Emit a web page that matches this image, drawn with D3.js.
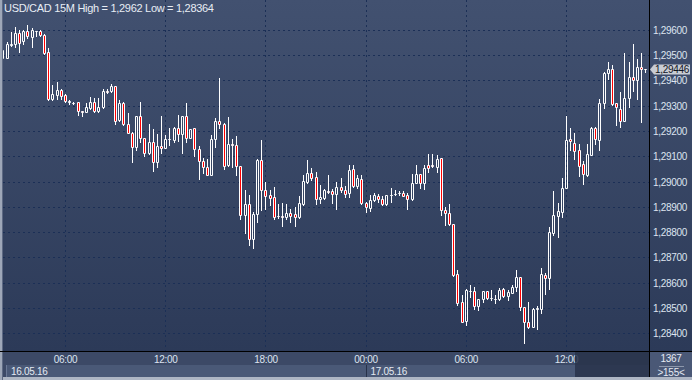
<!DOCTYPE html>
<html><head><meta charset="utf-8">
<script src="https://cdn.jsdelivr.net/npm/d3@7/dist/d3.min.js"></script>
<style>html,body{margin:0;padding:0;background:#3a4762;overflow:hidden}svg{display:block}
text{font-family:"Liberation Sans",Arial,sans-serif;}</style>
</head><body><svg id="c" width="692" height="380"></svg>
<script>
// ---- data (15-minute bars, USD/CAD) ----
const startTime = Date.UTC(2016, 4, 16, 2, 15); // first (partially visible) bar
const barMinutes = 15;
const open = [1.29492,1.29492,1.29542,1.29548,1.29592,1.29558,1.29598,1.29575,1.29598,1.29597,1.29581,1.29513,1.29327,1.29344,1.29364,1.29344,1.29315,1.29312,1.29315,1.29280,1.29278,1.29293,1.29315,1.29280,1.29296,1.29362,1.29360,1.29379,1.29245,1.29311,1.29228,1.29196,1.29139,1.29261,1.29175,1.29113,1.29159,1.29080,1.29143,1.29135,1.29170,1.29168,1.29212,1.29192,1.29261,1.29175,1.29212,1.29129,1.29082,1.29060,1.29027,1.29170,1.29241,1.29228,1.29069,1.29149,1.29145,1.29063,1.28871,1.28912,1.28776,1.28875,1.29086,1.28968,1.28948,1.28941,1.28864,1.28864,1.28860,1.28878,1.28875,1.28862,1.28912,1.29000,1.29034,1.29018,1.28931,1.28937,1.28965,1.28964,1.28951,1.28981,1.28968,1.28957,1.29050,1.28986,1.29010,1.28915,1.28899,1.28928,1.28944,1.28931,1.28912,1.28949,1.28952,1.28955,1.28958,1.28948,1.28931,1.28997,1.29030,1.28997,1.29069,1.29069,1.29060,1.29095,1.28891,1.28879,1.28832,1.28634,1.28523,1.28450,1.28569,1.28568,1.28509,1.28535,1.28568,1.28540,1.28538,1.28535,1.28576,1.28549,1.28562,1.28585,1.28622,1.28505,1.28446,1.28426,1.28498,1.28499,1.28631,1.28618,1.28798,1.28867,1.28882,1.28978,1.29170,1.29156,1.29126,1.29073,1.29027,1.29106,1.29212,1.29168,1.29311,1.29430,1.29447,1.29311,1.29291,1.29242,1.29331,1.29414,1.29403,1.29456,1.29446];
const high = [1.29525,1.29555,1.29594,1.29614,1.29601,1.29601,1.29620,1.29608,1.29600,1.29601,1.29588,1.29529,1.29383,1.29397,1.29368,1.29348,1.29325,1.29317,1.29316,1.29281,1.29311,1.29337,1.29333,1.29331,1.29368,1.29370,1.29390,1.29380,1.29324,1.29315,1.29275,1.29197,1.29262,1.29315,1.29176,1.29229,1.29209,1.29192,1.29261,1.29188,1.29214,1.29217,1.29267,1.29262,1.29311,1.29209,1.29213,1.29142,1.29096,1.29093,1.29185,1.29252,1.29410,1.29232,1.29258,1.29172,1.29181,1.29064,1.28968,1.28948,1.28882,1.29093,1.29168,1.29000,1.28968,1.28981,1.28912,1.28915,1.28912,1.28895,1.28902,1.28944,1.29027,1.29086,1.29057,1.29040,1.28987,1.28974,1.29027,1.28974,1.29000,1.29014,1.28983,1.29067,1.29067,1.29027,1.29027,1.28921,1.28948,1.28957,1.28954,1.28944,1.28949,1.28978,1.28968,1.28964,1.28964,1.28957,1.29030,1.29067,1.29031,1.29067,1.29109,1.29109,1.29106,1.29097,1.28902,1.28912,1.28833,1.28651,1.28552,1.28578,1.28591,1.28585,1.28535,1.28568,1.28569,1.28572,1.28552,1.28582,1.28582,1.28574,1.28591,1.28651,1.28623,1.28506,1.28525,1.28500,1.28509,1.28660,1.28638,1.28822,1.28964,1.28915,1.29016,1.29261,1.29214,1.29196,1.29149,1.29082,1.29152,1.29218,1.29218,1.29327,1.29436,1.29476,1.29463,1.29312,1.29357,1.29509,1.29476,1.29545,1.29489,1.29509,1.29447];
const low = [1.29490,1.29490,1.29539,1.29535,1.29513,1.29548,1.29571,1.29535,1.29579,1.29579,1.29506,1.29325,1.29325,1.29327,1.29327,1.29315,1.29309,1.29307,1.29267,1.29262,1.29277,1.29291,1.29277,1.29277,1.29293,1.29352,1.29358,1.29228,1.29243,1.29227,1.29195,1.29080,1.29126,1.29159,1.29103,1.29112,1.29043,1.29060,1.29113,1.29133,1.29146,1.29159,1.29162,1.29113,1.29159,1.29174,1.29103,1.29010,1.29034,1.29026,1.29026,1.29139,1.29212,1.29053,1.29062,1.29060,1.29027,1.28852,1.28799,1.28750,1.28737,1.28842,1.28891,1.28895,1.28908,1.28852,1.28859,1.28826,1.28855,1.28842,1.28826,1.28859,1.28908,1.28996,1.29007,1.28912,1.28915,1.28931,1.28957,1.28915,1.28895,1.28961,1.28941,1.28941,1.28981,1.28977,1.28914,1.28882,1.28886,1.28925,1.28921,1.28908,1.28908,1.28921,1.28948,1.28948,1.28944,1.28895,1.28930,1.28996,1.28978,1.28974,1.29040,1.29060,1.29040,1.28869,1.28829,1.28831,1.28627,1.28512,1.28445,1.28433,1.28545,1.28496,1.28495,1.28525,1.28538,1.28532,1.28521,1.28534,1.28545,1.28532,1.28561,1.28569,1.28492,1.28364,1.28420,1.28425,1.28416,1.28482,1.28558,1.28578,1.28789,1.28783,1.28862,1.28977,1.29126,1.29093,1.29024,1.28994,1.29023,1.29105,1.29152,1.29126,1.29293,1.29406,1.29304,1.29225,1.29218,1.29241,1.29297,1.29360,1.29328,1.29238,1.29436];
const close = [1.29522,1.29548,1.29548,1.29592,1.29552,1.29598,1.29579,1.29601,1.29597,1.29581,1.29509,1.29327,1.29347,1.29364,1.29341,1.29320,1.29320,1.29311,1.29280,1.29279,1.29296,1.29315,1.29280,1.29299,1.29360,1.29357,1.29379,1.29241,1.29311,1.29228,1.29196,1.29139,1.29261,1.29175,1.29113,1.29159,1.29080,1.29143,1.29135,1.29170,1.29169,1.29212,1.29192,1.29261,1.29175,1.29208,1.29129,1.29082,1.29060,1.29027,1.29170,1.29241,1.29228,1.29063,1.29149,1.29145,1.29063,1.28871,1.28912,1.28776,1.28875,1.29086,1.28968,1.28944,1.28937,1.28862,1.28865,1.28863,1.28878,1.28866,1.28862,1.28915,1.29003,1.29034,1.29014,1.28931,1.28941,1.28968,1.28961,1.28951,1.28981,1.28968,1.28954,1.29047,1.28986,1.29014,1.28915,1.28901,1.28928,1.28948,1.28931,1.28912,1.28948,1.28950,1.28953,1.28957,1.28945,1.28931,1.28998,1.29030,1.28997,1.29054,1.29054,1.29063,1.29093,1.28888,1.28878,1.28832,1.28631,1.28519,1.28446,1.28572,1.28570,1.28509,1.28535,1.28568,1.28539,1.28541,1.28537,1.28572,1.28549,1.28565,1.28585,1.28622,1.28505,1.28446,1.28426,1.28499,1.28502,1.28634,1.28618,1.28802,1.28871,1.28884,1.28978,1.29166,1.29162,1.29123,1.29064,1.29030,1.29109,1.29212,1.29172,1.29311,1.29430,1.29447,1.29308,1.29297,1.29242,1.29331,1.29414,1.29403,1.29456,1.29446,1.29446];
const priceTicks = [1.284,1.285,1.286,1.287,1.288,1.289,1.290,1.291,1.292,1.293,1.294,1.295,1.296];
const symbolTitle = "USD/CAD 15M";
const highLabel = "1,2962", lowLabel = "1,28364";
const currentLabel = "1,29446";
const counterTop = "1367", counterBottom = ">155<";

// ---- layout ----
const W = 692, H = 380;
const plotL = 3, plotR = 649, plotB = 351;
const svg = d3.select("#c");
const defs = svg.append("defs");
const g1 = defs.append("linearGradient").attr("id","bg").attr("x1",0).attr("y1",0).attr("x2",0).attr("y2",1);
g1.append("stop").attr("offset","0%").attr("stop-color","#425170");
g1.append("stop").attr("offset","100%").attr("stop-color","#2c3a58");
defs.append("clipPath").attr("id","plotclip").append("rect")
  .attr("x",plotL).attr("y",0).attr("width",plotR-plotL).attr("height",plotB);

const times = open.map((_, i) => new Date(startTime + i*barMinutes*60000));
const x = d3.scaleUtc()
  .domain([new Date(Date.UTC(2016,4,16,6,0)), new Date(Date.UTC(2016,4,17,12,0))])
  .range([65.5, 566.5]);
const y = d3.scaleLinear().domain([1.284, 1.296]).range([333.5, 30.5]);

// backgrounds
svg.append("rect").attr("x",0).attr("y",0).attr("width",W).attr("height",plotB).attr("fill","url(#bg)");
svg.append("rect").attr("x",0).attr("y",plotB).attr("width",plotR).attr("height",H-plotB).attr("fill","#3c4966");
svg.append("rect").attr("x",6).attr("y",365).attr("width",plotR-6).attr("height",12).attr("fill","#4a5977");
svg.append("line").attr("x1",6.5).attr("x2",6.5).attr("y1",365).attr("y2",377).attr("stroke","#6a7895");
svg.append("rect").attr("x",plotR).attr("y",plotB).attr("width",W-plotR).attr("height",H-plotB).attr("fill","#4a5876");
svg.append("rect").attr("x",0).attr("y",377).attr("width",W).attr("height",3).attr("fill","#aeb6c4");
svg.append("rect").attr("x",0).attr("y",0).attr("width",2).attr("height",H).attr("fill","#9ea7b8");
svg.append("line").attr("x1",2.5).attr("x2",2.5).attr("y1",0).attr("y2",H).attr("stroke","#5d6983");

// grid
const xt = x.ticks(d3.utcHour.every(6)).filter(d => x(d) > plotL && x(d) < plotR);
const grid = svg.append("g").attr("stroke","#1b2f56").attr("stroke-width",1).attr("stroke-dasharray","2,3");
grid.selectAll(".h").data(priceTicks).join("line")
  .attr("x1",plotL).attr("x2",plotR).attr("y1",d=>Math.floor(y(d))+0.5).attr("y2",d=>Math.floor(y(d))+0.5);
grid.selectAll(".v").data(xt).join("line")
  .attr("y1",0).attr("y2",plotB).attr("x1",d=>Math.floor(x(d))+0.5).attr("x2",d=>Math.floor(x(d))+0.5);

// candles
const bars = svg.append("g").attr("clip-path","url(#plotclip)");
times.forEach((t, i) => {
  const px = Math.floor(x(t));
  const o = open[i], c = close[i], hi = high[i], lo = low[i];
  const yt = Math.round(y(Math.max(o,c))), yb = Math.round(y(Math.min(o,c)));
  const yh = Math.round(y(hi)), yl = Math.round(y(lo));
  if (yh < yt) bars.append("line").attr("x1",px+0.5).attr("x2",px+0.5).attr("y1",yh).attr("y2",yt).attr("stroke","#fff");
  if (yl > yb) bars.append("line").attr("x1",px+0.5).attr("x2",px+0.5).attr("y1",yb+1).attr("y2",yl+1).attr("stroke","#fff");
  const h = Math.max(yb - yt, 0);
  bars.append("path")
    .attr("d", `M${px-0.5},${yt+0.5}h2v${h}h-2Z`)
    .attr("fill", c < o ? "#ff0000" : "none")
    .attr("stroke","#fff").attr("stroke-width",1);
});

// separators
svg.append("line").attr("x1",0).attr("x2",W).attr("y1",plotB+0.5).attr("y2",plotB+0.5).attr("stroke","#000");
svg.append("line").attr("x1",plotR+0.5).attr("x2",plotR+0.5).attr("y1",0).attr("y2",377).attr("stroke","#000");

// right axis labels
const fmt = v => d3.format(".5f")(v).replace(".", ",");
svg.append("g").selectAll("text").data(priceTicks).join("text")
  .attr("x",653).attr("y",d=>Math.floor(y(d))+4)
  .attr("font-size","10px").attr("letter-spacing","-0.3px").attr("fill","#dde4f0").text(fmt);

// time axis labels
svg.append("g").selectAll("text").data(xt).join("text")
  .attr("x",d=>x(d)).attr("y",363).attr("text-anchor","middle")
  .attr("font-size","10px").attr("letter-spacing","-0.3px").attr("fill","#dde4f0")
  .text(d3.utcFormat("%H:%M"));

// dark scroll region at the right end of the time band
svg.append("rect").attr("x",575).attr("y",plotB+1).attr("width",plotR-575).attr("height",377-plotB-1)
  .attr("fill","#28324a").attr("opacity",0.85);

// date labels
const dateFmt = d3.utcFormat("%d.%m.%y");
const midnights = xt.filter(d => d.getUTCHours() === 0);
svg.append("text").attr("x",11).attr("y",375).attr("font-size","10px").attr("letter-spacing","-0.3px")
  .attr("fill","#e4e9f2").text(dateFmt(times[0]));
midnights.forEach(d => {
  const px = Math.floor(x(d)) + 0.5;
  svg.append("line").attr("x1",px).attr("x2",px).attr("y1",365).attr("y2",377).attr("stroke","#27324a");
  svg.append("text").attr("x",px+4).attr("y",375).attr("font-size","10px").attr("letter-spacing","-0.3px")
    .attr("fill","#e4e9f2").text(dateFmt(d));
});

// counters
svg.append("text").attr("x",671).attr("y",362).attr("text-anchor","middle").attr("font-size","10px")
  .attr("letter-spacing","-0.3px").attr("fill","#e4e9f2").text(counterTop);
svg.append("line").attr("x1",659).attr("x2",684).attr("y1",366.5).attr("y2",366.5).attr("stroke","#8c97ab");
svg.append("text").attr("x",671).attr("y",376).attr("text-anchor","middle").attr("font-size","10px")
  .attr("letter-spacing","-0.3px").attr("fill","#e4e9f2").text(counterBottom);

// current price tag
const cy = Math.floor(y(close[close.length-1])) + 0.5;
svg.append("path").attr("d",`M650,${cy}L654,${cy-5}H690V${cy+5}H654Z`).attr("fill","#c8ccd3");
svg.append("text").attr("x",655).attr("y",cy+3.5).attr("font-size","10px").attr("letter-spacing","-0.3px")
  .attr("fill","#10151f").text(currentLabel);

// title
svg.append("text").attr("x",4).attr("y",11.5).attr("font-size","11px").attr("letter-spacing","-0.3px")
  .attr("fill","#e8edf5").text(`${symbolTitle} High = ${highLabel} Low = ${lowLabel}`);
</script></body></html>
